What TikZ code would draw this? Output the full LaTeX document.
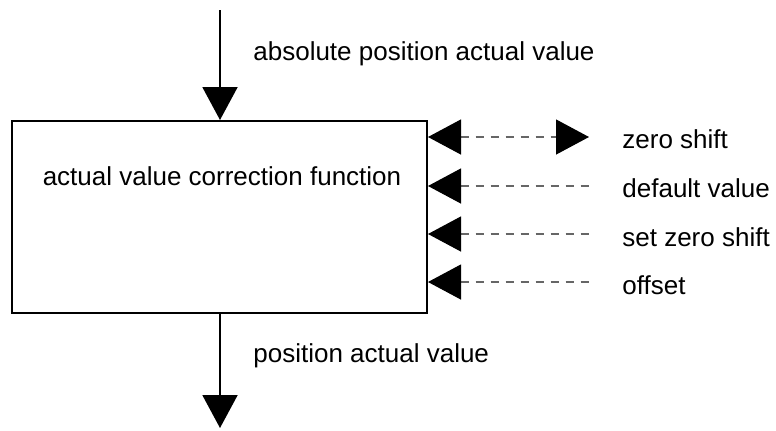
\documentclass[tikz,border=0pt]{standalone}
\usepackage{fontspec}
\setmainfont{Liberation Sans}
\usetikzlibrary{arrows.meta,positioning}

\begin{document}
\begin{tikzpicture}[
    x=0.5pt, y=-0.5pt,
    >={Triangle[length=16.5pt,width=17.5pt,color=black]},
    box/.style={rectangle, draw, line width=1pt, minimum width=207.5pt, minimum height=96pt, inner sep=0pt},
    txt/.style={inner sep=0pt, anchor=base west, font=\fontsize{13}{16}\selectfont},
    flow/.style={->, line width=1pt},
    sig/.style={<-, dashed, dash pattern=on 4pt off 3.5pt, black!60, line width=0.6pt}
]
    \useasboundingbox (0,0) rectangle (776,430);

    \node[box] (corr) at (219.5,217) {};
    \node[txt, anchor=base] (corrtxt) at (222,185) {actual value correction function};

    \coordinate (in) at (220,10);
    \coordinate (out) at (220,428);
    \node[txt] (inlabel) at (253,60) {absolute position actual value};
    \node[txt] (outlabel) at (253,362) {position actual value};

    \draw[flow] (in) -- (in |- corr.north);
    \draw[flow] (out |- corr.south) -- (out);

    % parameter inputs on the right
    \coordinate (zs) at (589,137);
    \coordinate (dv) at (589,186);
    \coordinate (szs) at (589,234);
    \coordinate (off) at (589,282);
    \node[txt] (zslabel) at (622,148) {zero shift};
    \node[txt] (dvlabel) at (622,197) {default value};
    \node[txt] (szslabel) at (622,246) {set zero shift};
    \node[txt] (offlabel) at (622,294) {offset};

    \draw[sig, <->] (corr.east |- zs) -- (zs);
    \draw[sig] (corr.east |- dv) -- (dv);
    \draw[sig] (corr.east |- szs) -- (szs);
    \draw[sig] (corr.east |- off) -- (off);
\end{tikzpicture}
\end{document}
